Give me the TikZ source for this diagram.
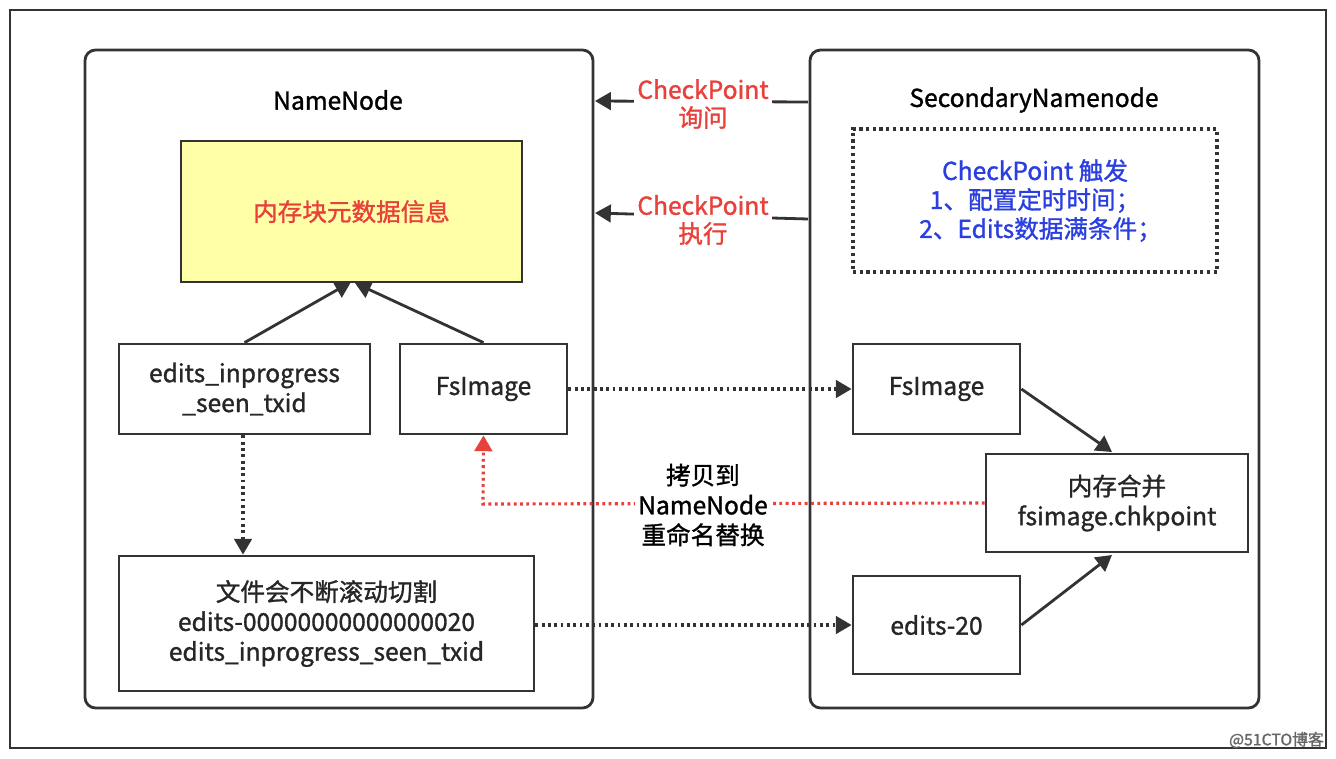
\documentclass[tikz,border=0pt]{standalone}
\usepackage{fontspec}
\setmainfont{Noto Sans CJK SC}[FakeBold=1.2]
\usetikzlibrary{arrows.meta}
\definecolor{dk}{HTML}{333333}
\definecolor{rd}{HTML}{E8403A}
\definecolor{bl}{HTML}{2B3FE0}
\definecolor{yl}{HTML}{FFFFA8}
\begin{document}
\begin{tikzpicture}[x=0.02cm,y=-0.02cm,
  box/.style={draw=dk,line width=1.6pt,align=center,font=\fontsize{14}{17}\selectfont,text=black!85},
  arr/.style={draw=dk,line width=1.6pt,-{Triangle[length=9pt,width=10pt]}},
  dot/.style={arr,dotted,line width=1.8pt},
  lbl/.style={font=\fontsize{14}{17}\selectfont,align=center}]
\useasboundingbox (0,0) rectangle (1336,758);
\fill[white] (0,0) rectangle (1336,758);
\draw[black!80,line width=1.6pt] (10,10) rectangle (1326,748);
\draw[dk,line width=1.6pt,rounded corners=6pt] (85,50) rectangle (593,708);
\draw[dk,line width=1.6pt,rounded corners=6pt] (810,50) rectangle (1259,708);
\node[lbl] (nn) at (338,100) {NameNode};
\node[lbl] (sn) at (1034,100) {SecondaryNamenode};
\node[draw=dk,line width=1.6pt,fill=yl,minimum width=6.82cm,minimum height=2.82cm,text=rd,font=\fontsize{14}{17}\selectfont] (mem) at (351.5,211.5) {内存块元数据信息};
\node[box,minimum width=5.02cm,minimum height=1.8cm] (ed) at (244.5,389) {edits\_inprogress\\\_seen\_txid};
\node[box,minimum width=3.34cm,minimum height=1.8cm] (fs) at (483.5,389) {FsImage};
\node[box,minimum width=8.3cm,minimum height=2.7cm] (bot) at (326.5,623.5) {文件会不断滚动切割\\edits-00000000000000020\\edits\_inprogress\_seen\_txid};
\node[draw=dk,line width=1.8pt,dotted,minimum width=7.28cm,minimum height=2.86cm,text=bl,align=center,font=\fontsize{14}{16.5}\selectfont] (trig) at (1035,200.5) {CheckPoint 触发\\1、配置定时时间；\\\ \ 2、Edits数据满条件；};
\node[box,minimum width=3.34cm,minimum height=1.8cm] (fs2) at (936.5,389) {FsImage};
\node[box,minimum width=5.24cm,minimum height=1.96cm] (mg) at (1117,503) {内存合并\\fsimage.chkpoint};
\node[box,minimum width=3.34cm,minimum height=1.96cm] (e20) at (936.5,625) {edits-20};
\coordinate (mt) at (351,282);
\draw[arr] (ed.north) -- (mt);
\draw[arr] (fs.north) -- (355,283);
\draw[dot] (ed.south -| 243,0) -- (bot.north -| 243,0);
\draw[dot] (fs.east) -- (fs2.west);
\draw[dot] (bot.east|-e20) -- (e20.west);
\draw[arr] (fs2.east) -- (1112,452);
\draw[arr] (e20.east) -- (1112,555);
\draw[dot,draw=rd] (mg.west) -- (483,504) -- (fs.south);
\node[lbl,fill=white,inner sep=2pt] (cp) at (703,505) {拷贝到\\NameNode\\重命名替换};
\coordinate (q1) at (808,102); \coordinate (q2) at (808,219);
\draw[arr] (q1) -- (595,101);
\draw[arr] (q2) -- (595,213);
\node[lbl,fill=white,text=rd,inner sep=2pt,font=\fontsize{14}{16}\selectfont] at (703,104) {CheckPoint\\询问};
\node[lbl,fill=white,text=rd,inner sep=2pt,font=\fontsize{14}{16}\selectfont] at (703,220) {CheckPoint\\执行};
\node[text=black!60,font=\fontsize{9}{10}\selectfont,anchor=east] at (1330,740) {@51CTO博客};
\end{tikzpicture}
\end{document}
